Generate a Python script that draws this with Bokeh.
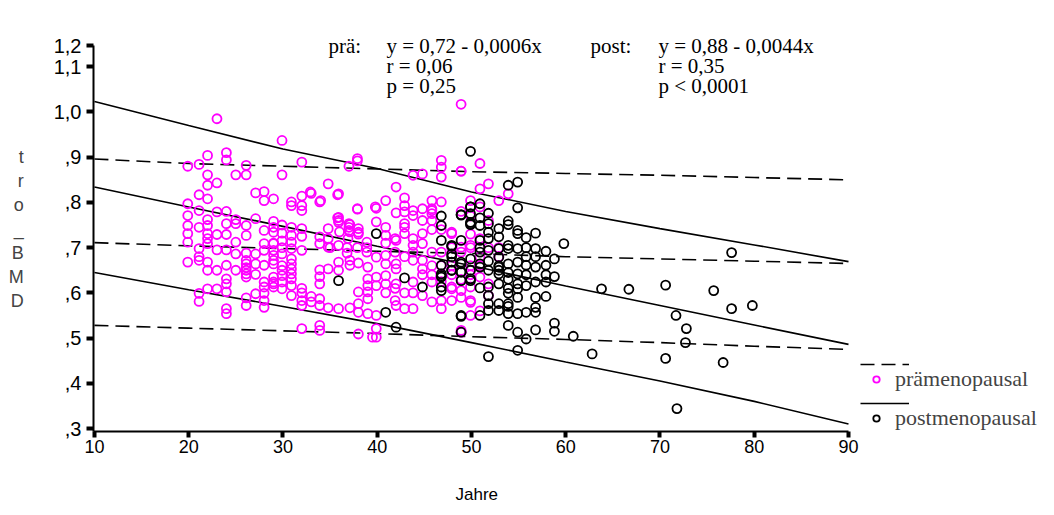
from bokeh.plotting import figure
from bokeh.models import Range1d, FixedTicker, Label, Legend, LegendItem, Title
from bokeh.embed import file_html
from bokeh.resources import INLINE

# ---------------- data ----------------
pre_age = [23.0, 24.0, 24.0, 22.0, 19.9, 21.1, 26.1, 22.0, 25.0, 26.1, 23.0, 22.0, 21.1, 22.0, 27.1, 28.0, 28.0, 29.0,
           19.9, 21.1, 19.9, 22.0, 23.0, 24.0, 25.0, 27.1, 29.0,
           19.9, 21.1, 22.0, 24.0, 25.0, 26.1, 28.0, 29.0, 19.9, 22.0, 22.0, 23.0, 24.0, 26.1, 19.9, 22.0, 25.0, 28.0,
           29.0, 23.0, 24.0, 21.1, 28.0, 29.0, 25.0, 26.1, 27.1, 21.1, 21.1, 19.9, 22.0, 26.1, 26.1, 27.1, 28.0, 29.0,
           24.0, 23.0, 22.0, 25.0, 26.1, 27.1, 26.1, 24.0, 24.0, 28.0, 29.0, 28.0, 29.0, 22.0, 23.0, 24.0, 21.1, 21.1,
           27.1, 26.1, 28.0, 28.0, 26.1, 28.0, 24.0, 24.0, 26.1, 26.1,
           29.9, 32.0, 29.9, 37.9, 37.9, 37.0, 34.8, 35.8, 33.0, 32.0, 33.9, 30.9, 30.9, 32.0, 32.0, 37.9, 39.8, 35.8,
           37.0, 32.9, 34.0, 35.9, 37.9,
           48.9, 46.8, 46.8, 46.8, 48.9, 44.8, 43.8, 42.0, 40.9, 39.9, 42.9, 42.9, 42.9, 45.8, 46.8, 45.8, 43.8, 44.8,
           42.0, 43.8, 45.8, 49.9,
           29.0, 29.9, 30.9, 32.0, 29.0, 29.0, 29.0, 29.9, 30.9, 30.9, 30.9, 30.9, 30.9, 30.9, 30.9, 30.9, 30.9, 32.0,
           29.0, 29.0, 29.9, 29.9, 29.9, 33.9, 33.9, 34.8, 34.8, 35.9, 34.8, 35.9, 37.1, 38.0, 35.9, 37.1, 37.1, 38.0,
           39.0, 35.9, 33.9, 33.9, 33.9, 34.8, 39.0, 39.0, 39.0, 39.0, 38.0, 38.0, 32.0, 32.0, 33.0, 33.9, 33.9, 34.8,
           35.9, 37.1, 38.0, 39.0, 32.0, 33.9, 33.9, 38.0, 39.5,
           29.9, 29.9, 29.9, 29.9, 29.9, 30.9, 32.0, 32.0, 32.0, 33.0, 36.8, 36.8, 37.9, 38.9, 37.1, 36.0, 35.0,
           35.9, 35.9, 37.0, 37.0, 38.0, 38.0, 38.9, 38.9, 36.9, 40.9, 41.9,
           42.9, 42.9, 43.8, 44.8, 44.8, 40.9, 42.0, 43.8, 47.9, 39.9, 40.9, 40.9, 42.0, 42.0, 43.8, 44.8, 44.8, 39.9,
           40.9, 40.9, 42.0, 43.8, 45.8, 39.9, 44.8, 45.8, 46.8, 46.8, 41.9, 42.0, 42.9, 43.8, 39.9, 39.9, 39.9, 47.9,
           48.9, 49.9, 49.9, 47.9, 48.9,
           39.9, 40.9, 42.9, 45.8, 46.8, 45.8, 44.8, 41.9, 42.9, 43.8, 45.8, 46.8, 45.8, 45.8, 46.8, 47.9, 47.9, 48.9,
           48.9, 49.9, 49.9, 49.9, 47.9, 46.8, 44.8, 43.8, 42.9, 40.9, 41.9,
           50.9, 48.9, 51.8, 50.9, 53.9, 52.9, 45.8, 47.9, 49.9, 48.9, 50.9, 47.9, 48.9, 49.9, 51.8, 48.9, 49.9, 50.9,
           50.9, 50.9, 51.8, 51.8, 52.9, 52.9, 49.9, 48.9, 50.9, 51.8, 49.9, 50.9]
pre_bmd = [0.985, 0.910, 0.894, 0.904, 0.880, 0.884, 0.882, 0.861, 0.861, 0.861, 0.843, 0.838, 0.817, 0.808, 0.821,
           0.824, 0.804, 0.808, 0.797, 0.782, 0.771, 0.762, 0.779, 0.780, 0.762, 0.764, 0.758,
           0.749, 0.745, 0.749, 0.753, 0.753, 0.749, 0.738, 0.734, 0.731, 0.731, 0.720, 0.729, 0.729, 0.727, 0.712,
           0.709, 0.712, 0.709, 0.710, 0.695, 0.695, 0.698, 0.694, 0.694, 0.686, 0.688, 0.686, 0.680, 0.672, 0.668,
           0.668, 0.672, 0.664, 0.664, 0.661, 0.664, 0.661, 0.650, 0.650, 0.650, 0.642, 0.641, 0.650, 0.631, 0.620,
           0.624, 0.624, 0.613, 0.613, 0.609, 0.609, 0.602, 0.599, 0.581, 0.598, 0.589, 0.599, 0.583, 0.572, 0.568,
           0.565, 0.554, 0.656, 0.635,
           0.937, 0.889, 0.861, 0.897, 0.892, 0.880, 0.841, 0.817, 0.820, 0.814, 0.801, 0.801, 0.793, 0.793, 0.782,
           0.785, 0.790, 0.766, 0.753, 0.823, 0.804, 0.819, 0.786,
           1.017, 0.893, 0.878, 0.856, 0.869, 0.863, 0.860, 0.834, 0.804, 0.787, 0.810, 0.793, 0.779, 0.804, 0.801,
           0.786, 0.782, 0.786, 0.777, 0.771, 0.775, 0.804,
           0.745, 0.732, 0.727, 0.742, 0.709, 0.683, 0.672, 0.686, 0.712, 0.698, 0.675, 0.664, 0.653, 0.642, 0.631,
           0.616, 0.594, 0.694, 0.635, 0.620, 0.638, 0.624, 0.609, 0.724, 0.709, 0.720, 0.701, 0.705, 0.742, 0.756,
           0.751, 0.734, 0.668, 0.672, 0.661, 0.666, 0.657, 0.650, 0.651, 0.636, 0.620, 0.653, 0.631, 0.616, 0.602,
           0.587, 0.602, 0.576, 0.583, 0.572, 0.592, 0.587, 0.572, 0.567, 0.565, 0.567, 0.557, 0.554, 0.521, 0.528,
           0.517, 0.509, 0.502,
           0.750, 0.715, 0.700, 0.660, 0.650, 0.745, 0.725, 0.600, 0.610, 0.580, 0.700, 0.688, 0.700, 0.690, 0.735,
           0.735, 0.700, 0.767, 0.760, 0.745, 0.738, 0.742, 0.730, 0.712, 0.700, 0.720, 0.710, 0.720,
           0.753, 0.731, 0.720, 0.731, 0.709, 0.727, 0.716, 0.705, 0.731, 0.679, 0.683, 0.664, 0.664, 0.653, 0.672,
           0.672, 0.653, 0.635, 0.638, 0.620, 0.620, 0.624, 0.624, 0.616, 0.594, 0.580, 0.583, 0.565, 0.583, 0.572,
           0.565, 0.565, 0.550, 0.521, 0.502, 0.609, 0.605, 0.613, 0.583, 0.583, 0.517,
           0.757, 0.745, 0.745, 0.760, 0.740, 0.740, 0.760, 0.690, 0.680, 0.690, 0.690, 0.690, 0.660, 0.640, 0.625,
           0.660, 0.640, 0.690, 0.630, 0.700, 0.660, 0.640, 0.700, 0.660, 0.640, 0.600, 0.600, 0.600, 0.610,
           0.886, 0.869, 0.841, 0.830, 0.819, 0.804, 0.782, 0.734, 0.705, 0.701, 0.635, 0.613, 0.590, 0.579, 0.594,
           0.513, 0.730, 0.720, 0.680, 0.660, 0.700, 0.620, 0.700, 0.680, 0.770, 0.780, 0.790, 0.760, 0.550, 0.560]

post_age = [49.9, 46.8, 48.9, 49.9, 49.9, 39.9, 46.8, 49.9, 46.8, 48.9, 47.9, 47.9, 47.9, 47.9, 48.9, 48.9, 48.9,
            49.9, 49.9, 46.8, 46.8, 42.9, 44.8, 46.8, 40.9, 42.0, 48.9, 48.9, 35.9,
            54.9, 53.9, 54.9, 50.9, 49.9, 49.9, 48.9, 51.8, 50.9, 50.9, 51.8, 49.9, 53.9, 53.9, 52.9, 54.9, 54.9, 55.8,
            56.8, 51.8, 51.8, 50.9, 52.9, 47.9, 53.9, 53.9, 54.9, 56.8, 57.9, 59.8, 51.8, 52.9, 52.9, 47.9, 46.8, 48.9,
            49.9, 50.9, 50.9, 51.8, 52.9, 53.9, 54.9, 55.8, 56.8, 57.9, 58.8, 58.8, 48.9, 49.9, 46.8, 47.9, 52.9, 54.9,
            55.8, 56.8, 57.9, 57.9, 50.9, 51.8, 54.9, 53.9, 46.8, 51.8, 52.9, 53.9, 51.8, 51.8, 52.9, 50.9, 48.9, 53.9,
            54.9, 55.8, 56.8, 56.8, 58.8, 58.8, 56.8, 55.8, 54.9, 53.9, 60.8, 63.8, 54.9, 51.8, 62.8,
            52.9, 52.9, 53.9, 53.9, 51.8, 50.9, 50.9, 52.9, 53.9, 54.9, 55.8, 55.8, 55.8, 56.8, 53.9, 54.9, 57.9, 56.8,
            66.7, 70.6, 71.7, 72.8, 72.7, 70.6, 71.8, 75.7, 77.6, 77.6, 79.8, 76.7]
post_bmd = [0.913, 0.770, 0.773, 0.790, 0.756, 0.731, 0.749, 0.751, 0.716, 0.716, 0.705, 0.686, 0.668, 0.650, 0.668,
            0.646, 0.627, 0.650, 0.627, 0.642, 0.635, 0.633, 0.613, 0.605, 0.557, 0.524, 0.548, 0.513, 0.627,
            0.845, 0.838, 0.788, 0.797, 0.790, 0.775, 0.772, 0.776, 0.766, 0.749, 0.753, 0.753, 0.759, 0.751, 0.742,
            0.738, 0.731, 0.722, 0.732, 0.734, 0.720, 0.716, 0.724, 0.703, 0.705, 0.698, 0.698, 0.698, 0.692, 0.709,
            0.694, 0.698, 0.679, 0.680, 0.661, 0.664, 0.675, 0.664, 0.657, 0.650, 0.657, 0.664, 0.668, 0.661, 0.657,
            0.661, 0.675, 0.636, 0.646, 0.631, 0.638, 0.650, 0.642, 0.642, 0.616, 0.624, 0.624, 0.592, 0.611, 0.613,
            0.609, 0.599, 0.613, 0.594, 0.576, 0.576, 0.576, 0.561, 0.561, 0.550, 0.550, 0.554, 0.554, 0.557, 0.568,
            0.557, 0.533, 0.515, 0.518, 0.498, 0.513, 0.528, 0.504, 0.609, 0.473, 0.459, 0.465,
            0.660, 0.650, 0.645, 0.630, 0.670, 0.690, 0.700, 0.620, 0.610, 0.620, 0.700, 0.680, 0.640, 0.680, 0.570,
            0.590, 0.640, 0.590,
            0.608, 0.617, 0.550, 0.521, 0.490, 0.455, 0.344, 0.605, 0.689, 0.565, 0.572, 0.446]

band_age = [10, 20, 30, 40, 50, 60, 70, 80, 90]
post_upper = [1.023, 0.970, 0.918, 0.875, 0.823, 0.780, 0.742, 0.706, 0.669]
post_fit = [0.834, 0.790, 0.747, 0.703, 0.660, 0.615, 0.572, 0.529, 0.486]
post_lower = [0.645, 0.607, 0.570, 0.532, 0.490, 0.447, 0.405, 0.360, 0.310]
pre_upper = [0.896, 0.886, 0.880, 0.874, 0.868, 0.864, 0.860, 0.855, 0.850]
pre_fit = [0.711, 0.704, 0.698, 0.692, 0.687, 0.680, 0.675, 0.670, 0.665]
pre_lower = [0.528, 0.522, 0.516, 0.510, 0.503, 0.497, 0.490, 0.482, 0.475]

x_ticks = [10, 20, 30, 40, 50, 60, 70, 80, 90]
y_ticks = [0.3, 0.4, 0.5, 0.6, 0.7, 0.8, 0.9, 1.0, 1.1, 1.147]
y_tick_labels = [",3", ",4", ",5", ",6", ",7", ",8", ",9", "1,0", "1,1", "1,2"]

y_title_chars = ["t", "r", "o", "_", "B", "M", "D"]
x_title = "Jahre"
pre_text = ["y = 0,72 - 0,0006x", "r = 0,06", "p = 0,25"]
post_text = ["y = 0,88 - 0,0044x", "r = 0,35", "p < 0,0001"]
legend_labels = ["prämenopausal", "postmenopausal"]

# ---------------- layout ----------------
W, H = 1054, 515
FL, FT, FB = 93, 25, 431                    # frame edges in px (frame runs to the right edge)
AX_R, AX_T = 848, 45                        # where the drawn axes end
X0, XA = 9.9, 90.0
Y0, YA = 0.2934, 1.147
PX_X = (AX_R - FL) / (XA - X0)
PX_Y = (FB - AX_T) / (YA - Y0)
X1 = X0 + (W - FL) / PX_X
Y1 = Y0 + (FB - FT) / PX_Y

def dx(px):
    return X0 + (px - FL) / PX_X

def dy(py):
    return Y0 + (FB - py) / PX_Y

SANS = "Liberation Sans"
SERIF = "Liberation Serif"
PINK = "#ff00ff"

p = figure(width=W, height=H, x_range=Range1d(X0, X1), y_range=Range1d(Y0, Y1),
           output_backend="svg", toolbar_location=None,
           min_border_left=FL, min_border_right=0, min_border_top=FT, min_border_bottom=H - FB)
p.grid.visible = False
p.outline_line_color = None
p.background_fill_color = "white"
p.border_fill_color = "white"

for ax in (p.xaxis[0], p.yaxis[0]):
    ax.axis_line_color = "black"
    ax.axis_line_width = 2
    ax.major_tick_line_color = "black"
    ax.major_tick_line_width = 4
    ax.major_tick_in = 0
    ax.minor_tick_line_color = None
    ax.major_label_text_font = SANS
    ax.major_label_text_color = "black"

xa = p.xaxis[0]
xa.ticker = FixedTicker(ticks=x_ticks)
xa.bounds = (X0, XA)
xa.major_tick_out = 6
xa.major_label_standoff = 2
xa.major_label_text_font_size = "18px"

ya = p.yaxis[0]
ya.ticker = FixedTicker(ticks=y_ticks)
ya.bounds = (Y0, YA)
ya.major_label_overrides = {t: s for t, s in zip(y_ticks, y_tick_labels)}
ya.major_tick_out = 7
ya.major_label_standoff = 5
ya.major_label_text_font_size = "20px"
ya.axis_label = "\n".join(y_title_chars)
ya.axis_label_orientation = "horizontal"
ya.axis_label_text_font = SANS
ya.axis_label_text_font_size = "18px"
ya.axis_label_text_font_style = "normal"
ya.axis_label_text_align = "center"
ya.axis_label_standoff = 27

# x title below the axis (second text line, so it sits low), under the drawn axis
p.add_layout(Title(text="\n" + x_title, align="left", offset=455 - FL, standoff=16,
                   text_font=SANS, text_font_size="17px", text_font_style="normal",
                   text_color="black"), "below")

# regression / band lines
pre_lines = []
for vals in (pre_upper, pre_fit, pre_lower):
    pre_lines.append(p.line(band_age, vals, line_color="black", line_width=1.6, line_dash="14 7"))
post_lines = []
for vals in (post_upper, post_fit, post_lower):
    post_lines.append(p.line(band_age, vals, line_color="black", line_width=1.6))

pre_pts = p.scatter(pre_age, pre_bmd, marker="circle", size=9, fill_color=None,
                    line_color=PINK, line_width=1.8)
post_pts = p.scatter(post_age, post_bmd, marker="circle", size=9, fill_color=None,
                     line_color="black", line_width=1.8)

# annotations (statistics)
for i, (a, b) in enumerate(zip(pre_text, post_text)):
    yy = dy(45 + 20 * i)
    p.add_layout(Label(x=dx(386), y=yy, text=a, text_font=SERIF, text_font_size="21px",
                       text_baseline="middle", text_align="left", text_color="black"))
    p.add_layout(Label(x=dx(658), y=yy, text=b, text_font=SERIF, text_font_size="21px",
                       text_baseline="middle", text_align="left", text_color="black"))
p.add_layout(Label(x=dx(328), y=dy(45), text="prä:", text_font=SERIF, text_font_size="21px",
                   text_baseline="middle", text_align="left", text_color="black"))
p.add_layout(Label(x=dx(590), y=dy(45), text="post:", text_font=SERIF, text_font_size="21px",
                   text_baseline="middle", text_align="left", text_color="black"))

# legends: line keys and marker keys
leg_lines = Legend(items=[LegendItem(label=" ", renderers=[pre_lines[1]]),
                          LegendItem(label=" ", renderers=[post_lines[1]])],
                   location=(860 - FL, FB - 411), glyph_width=49, glyph_height=16, label_height=16,
                   spacing=23, padding=0, margin=0, border_line_color=None, background_fill_alpha=0,
                   label_text_font_size="1px", label_standoff=0, label_width=1)
leg_marks = Legend(items=[LegendItem(label=legend_labels[0], renderers=[pre_pts]),
                          LegendItem(label=legend_labels[1], renderers=[post_pts])],
                   location=(868 - FL, FB - 432), glyph_width=16, glyph_height=28, label_height=28,
                   spacing=11, padding=0, margin=0, border_line_color=None, background_fill_alpha=0,
                   label_text_font=SERIF, label_text_font_size="22px", label_standoff=11,
                   label_text_baseline="middle")
p.add_layout(leg_lines)
p.add_layout(leg_marks)

open("out.html", "w").write(file_html(p, INLINE))
